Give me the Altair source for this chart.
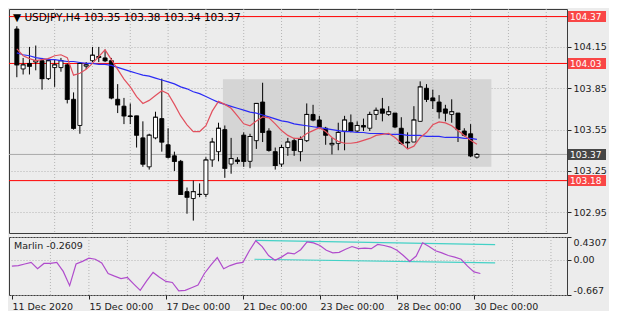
import altair as alt
import pandas as pd

symbol = "USDJPY,H4"

opens = [104.28, 103.99, 104.03, 104.04, 104.05, 103.92, 104.00, 104.00, 104.02, 103.77,
         103.58, 104.01, 104.05, 104.08, 104.07, 104.05, 103.77, 103.72, 103.65, 103.65,
         103.49, 103.28, 103.49, 103.63, 103.44, 103.36, 103.32, 103.10, 103.05, 103.08,
         103.08, 103.33, 103.39, 103.55, 103.30, 103.33, 103.51, 103.32, 103.47, 103.75,
         103.54, 103.39, 103.30, 103.42, 103.47, 103.39, 103.47, 103.66, 103.62, 103.56,
         103.44, 103.45, 103.54, 103.60, 103.54, 103.58, 103.56, 103.66, 103.70, 103.66,
         103.67, 103.56, 103.46, 103.46, 103.61, 103.85, 103.78, 103.75, 103.70, 103.66,
         103.67, 103.54, 103.52, 103.35]
highs = [104.30, 104.07, 104.15, 104.16, 104.07, 104.07, 104.06, 104.07, 104.03, 103.82,
         104.04, 104.04, 104.15, 104.15, 104.13, 104.07, 103.88, 103.78, 103.74, 103.65,
         103.61, 103.52, 103.68, 103.92, 103.56, 103.39, 103.33, 103.13, 103.18, 103.16,
         103.35, 103.49, 103.60, 103.58, 103.49, 103.35, 103.53, 103.52, 103.74, 103.89,
         103.56, 103.42, 103.44, 103.49, 103.49, 103.50, 103.74, 103.73, 103.65, 103.57,
         103.49, 103.60, 103.65, 103.66, 103.61, 103.63, 103.68, 103.71, 103.78, 103.72,
         103.67, 103.64, 103.53, 103.72, 103.90, 103.88, 103.84, 103.80, 103.73, 103.77,
         103.67, 103.56, 103.59, 103.38]
lows = [103.93, 103.95, 103.95, 103.98, 103.84, 103.91, 103.86, 103.97, 103.74, 103.55,
        103.52, 103.99, 104.04, 104.04, 104.04, 103.77, 103.67, 103.59, 103.59, 103.42,
        103.28, 103.26, 103.48, 103.39, 103.34, 103.25, 103.08, 102.94, 102.89, 103.06,
        103.06, 103.28, 103.32, 103.20, 103.23, 103.30, 103.28, 103.27, 103.41, 103.46,
        103.39, 103.26, 103.28, 103.36, 103.36, 103.32, 103.46, 103.61, 103.56, 103.44,
        103.37, 103.40, 103.40, 103.53, 103.53, 103.54, 103.54, 103.62, 103.61, 103.65,
        103.56, 103.44, 103.41, 103.46, 103.61, 103.75, 103.70, 103.63, 103.61, 103.60,
        103.46, 103.50, 103.35, 103.34]
closes = [104.02, 104.02, 104.01, 104.05, 103.92, 104.05, 104.02, 104.05, 103.77, 103.56,
          104.03, 104.02, 104.09, 104.075, 104.05, 103.78, 103.73, 103.65, 103.645, 103.51,
          103.30, 103.51, 103.64, 103.46, 103.35, 103.32, 103.08, 103.06, 103.10, 103.08,
          103.33, 103.46, 103.56, 103.27, 103.34, 103.32, 103.32, 103.50, 103.74, 103.53,
          103.40, 103.29, 103.42, 103.46, 103.40, 103.48, 103.66, 103.62, 103.57, 103.51,
          103.45, 103.53, 103.62, 103.54, 103.58, 103.57, 103.66, 103.69, 103.67, 103.68,
          103.57, 103.45, 103.455, 103.62, 103.86, 103.77, 103.76, 103.68, 103.67, 103.68,
          103.55, 103.51, 103.36, 103.37]

ma_slow = [104.107, 104.093, 104.086, 104.072, 104.065, 104.058, 104.058, 104.051, 104.044, 104.044,
           104.037, 104.030, 104.030, 104.023, 104.023, 104.016, 104.002, 103.987, 103.973, 103.959,
           103.945, 103.938, 103.924, 103.910, 103.896, 103.882, 103.860, 103.846, 103.825, 103.811,
           103.790, 103.769, 103.748, 103.733, 103.719, 103.705, 103.691, 103.677, 103.670, 103.656,
           103.642, 103.628, 103.613, 103.606, 103.592, 103.585, 103.578, 103.571, 103.564, 103.557,
           103.550, 103.543, 103.536, 103.536, 103.529, 103.529, 103.522, 103.522, 103.522, 103.515,
           103.515, 103.515, 103.508, 103.508, 103.508, 103.501, 103.501, 103.501, 103.493, 103.493,
           103.493, 103.486, 103.486, 103.479]
ma_fast = [104.136, 104.086, 104.065, 104.051, 104.058, 104.065, 104.086, 104.093, 104.072, 103.945,
           103.959, 103.987, 104.030, 104.079, 104.129, 104.058, 103.987, 103.917, 103.860, 103.790,
           103.740, 103.762, 103.797, 103.832, 103.811, 103.733, 103.649, 103.585, 103.536, 103.536,
           103.578, 103.684, 103.755, 103.733, 103.705, 103.649, 103.592, 103.578, 103.613, 103.642,
           103.635, 103.592, 103.543, 103.508, 103.486, 103.486, 103.522, 103.543, 103.564, 103.536,
           103.493, 103.465, 103.451, 103.451, 103.458, 103.472, 103.486, 103.508, 103.515, 103.522,
           103.493, 103.451, 103.409, 103.430, 103.493, 103.529, 103.585, 103.606, 103.599, 103.578,
           103.543, 103.508, 103.472, 103.444]
marlin = [-0.12, -0.11, -0.08, -0.05, -0.17, -0.07, -0.07, -0.05, -0.22, -0.49,
          -0.08, -0.03, 0.03, 0.01, -0.06, -0.26, -0.31, -0.355, -0.336, -0.46,
          -0.58, -0.40, -0.24, -0.33, -0.41, -0.43, -0.59, -0.58, -0.53, -0.48,
          -0.26, -0.10, 0.04, -0.17, -0.11, -0.07, -0.05, 0.17, 0.36, 0.25,
          0.08, -0.01, 0.05, 0.13, 0.11, 0.19, 0.34, 0.32, 0.27, 0.18,
          0.13, 0.14, 0.20, 0.25, 0.21, 0.22, 0.21, 0.29, 0.27, 0.24,
          0.18, 0.08, -0.03, 0.07, 0.32, 0.25, 0.17, 0.13, 0.08, 0.05,
          0.01, -0.12, -0.23, -0.2609]

# horizontal levels
red_levels = [104.37, 104.03, 103.18]
last_price = 103.37

# consolidation box (bar index / price)
box_x = [32.7, 75.3]
box_y = [103.28, 103.915]

# cyan channel lines on the oscillator
chan_name = ["upper", "upper", "lower", "lower"]
chan_x = [38.0, 75.3, 37.8, 75.3]
chan_v = [0.365, 0.285, 0.01, -0.06]

# axes
price_ticks = [102.95, 103.25, 103.55, 103.85, 104.15]
osc_ticks = [0.4307, 0.0, -0.667]
time_pos = [0, 12, 24, 36, 48, 60, 72]
time_labels = ["11 Dec 2020", "15 Dec 00:00", "17 Dec 00:00", "21 Dec 00:00",
               "23 Dec 00:00", "28 Dec 00:00", "30 Dec 00:00"]
grid_pos = [6, 12, 18, 24, 30, 36, 42, 48, 54, 60, 66, 72, 78, 84]

W = 558
H1 = 224
H2 = 58
FONT = "DejaVu Sans"
FS = 9.5
TAG_FS = 9

n = len(opens)
df = pd.DataFrame({"i": list(range(n)), "o": opens, "h": highs, "l": lows, "c": closes,
                   "slow": ma_slow, "fast": ma_fast, "marlin": marlin})
df["bull"] = df["c"] >= df["o"]

xs = alt.Scale(domain=[-0.45, 86.5], nice=False, zero=False)
ys = alt.Scale(domain=[102.80, 104.425], nice=False, zero=False)
os_ = alt.Scale(domain=[-0.667, 0.4307], nice=False, zero=False)

y_axis = alt.Axis(orient="right", values=price_ticks, format=".2f", title=None,
                  labelFont=FONT, labelFontSize=FS, labelColor="#222",
                  tickColor="#222", tickSize=4, domain=False, grid=True,
                  gridDash=[1, 2], gridColor="#b4b4b4", labelPadding=2)

grid_df = pd.DataFrame({"g": grid_pos})
box_df = pd.DataFrame({"x0": [box_x[0]], "x1": [box_x[1]], "y0": [box_y[0]], "y1": [box_y[1]]})
lvl_df = pd.DataFrame({"p": red_levels})
tag_df = pd.DataFrame({"p": red_levels + [last_price],
                       "col": ["#ff0000"] * len(red_levels) + ["#000000"]})
tag_df["txt"] = tag_df["p"].map(lambda v: f"{v:.2f}")
title_df = pd.DataFrame({"t": [f"\u25BC {symbol}  {opens[-1]:.2f} {highs[-1]:.2f} {lows[-1]:.2f} {closes[-1]:.2f}"]})

box = alt.Chart(box_df).mark_rect(color="#d5d5d5").encode(
    x=alt.X("x0:Q", scale=xs, axis=None), x2="x1:Q",
    y=alt.Y("y0:Q", scale=ys, axis=y_axis), y2="y1:Q")

vgrid = alt.Chart(grid_df).mark_rule(color="#b4b4b4", strokeDash=[1, 2]).encode(
    x=alt.X("g:Q", scale=xs, axis=None))

red_lines = alt.Chart(lvl_df).mark_rule(color="#ff0000", strokeWidth=1).encode(
    y=alt.Y("p:Q", scale=ys, axis=y_axis))

last_line = alt.Chart(pd.DataFrame({"p": [last_price]})).mark_rule(color="#a9a9a9").encode(
    y=alt.Y("p:Q", scale=ys, axis=y_axis))

base = alt.Chart(df).encode(x=alt.X("i:Q", scale=xs, axis=None))

wicks = base.mark_rule(color="#000000", strokeWidth=1).encode(
    y=alt.Y("l:Q", scale=ys, axis=y_axis), y2="h:Q")

bodies = base.mark_bar(width=4, stroke="#000000", strokeWidth=0.9).encode(
    y=alt.Y("o:Q", scale=ys, axis=y_axis), y2="c:Q",
    fill=alt.condition("datum.bull", alt.value("#ffffff"), alt.value("#000000")))

caps = base.mark_tick(orient="horizontal", size=5, thickness=1, color="#000000").encode(
    y=alt.Y("c:Q", scale=ys, axis=y_axis))

slow_line = base.mark_line(color="#2b2bf5", strokeWidth=1.2).encode(
    y=alt.Y("slow:Q", scale=ys, axis=y_axis))
fast_line = base.mark_line(color="#e2505e", strokeWidth=1.2).encode(
    y=alt.Y("fast:Q", scale=ys, axis=y_axis))

tags = alt.Chart(tag_df).mark_tick(orient="horizontal", size=38, thickness=11).encode(
    x=alt.value(W + 20),
    y=alt.Y("p:Q", scale=ys, axis=y_axis),
    color=alt.Color("col:N", scale=None))
tag_txt = alt.Chart(tag_df).mark_text(align="left", baseline="middle", color="#ffffff",
                                      font=FONT, fontSize=TAG_FS, dy=0.5).encode(
    x=alt.value(W + 3),
    y=alt.Y("p:Q", scale=ys, axis=y_axis),
    text="txt:N")

title_txt = alt.Chart(title_df).mark_text(align="left", baseline="middle", color="#000000",
                                          font=FONT, fontSize=10.5).encode(
    x=alt.value(4), y=alt.value(9), text="t:N")

main = alt.layer(box, vgrid, last_line, red_lines, wicks, bodies, caps,
                 slow_line, fast_line, tags, tag_txt, title_txt).properties(width=W, height=H1)

# ---------- oscillator panel ----------
label_expr = ""
for p, t in zip(time_pos, time_labels):
    label_expr += f"datum.value == {p} ? '{t}' : "
label_expr += "''"

x_axis = alt.Axis(values=time_pos, labelExpr=label_expr, labelAlign="left", title=None,
                  labelFont=FONT, labelFontSize=FS, labelColor="#222", tickColor="#222",
                  tickSize=4, domain=False, grid=False, labelPadding=2, labelFlush=False,
                  labelOverlap=False)
o_axis = alt.Axis(orient="right", values=osc_ticks, title=None, labelFlush=True,
                  labelExpr="datum.value == 0 ? '0.00' : '' + datum.value",
                  labelFont=FONT, labelFontSize=FS, labelColor="#222", tickColor="#222",
                  tickSize=4, domain=False, grid=True, gridDash=[1, 2], gridColor="#b4b4b4",
                  labelPadding=2)

chan_df = pd.DataFrame({"name": chan_name, "x": chan_x, "v": chan_v})

ovgrid = alt.Chart(grid_df).mark_rule(color="#b4b4b4", strokeDash=[1, 2]).encode(
    x=alt.X("g:Q", scale=xs, axis=x_axis))
osc_line = alt.Chart(df).mark_line(color="#b04ccc", strokeWidth=1.2).encode(
    x=alt.X("i:Q", scale=xs, axis=x_axis),
    y=alt.Y("marlin:Q", scale=os_, axis=o_axis))
chan = alt.Chart(chan_df).mark_line(color="#43d1c6", strokeWidth=1.2).encode(
    x=alt.X("x:Q", scale=xs, axis=x_axis),
    y=alt.Y("v:Q", scale=os_, axis=o_axis),
    detail="name:N")
osc_label = alt.Chart(pd.DataFrame({"t": [f"Marlin {marlin[-1]:.4f}"]})).mark_text(
    align="left", baseline="middle", color="#222", font=FONT, fontSize=FS).encode(
    x=alt.value(5), y=alt.value(9), text="t:N")

osc = alt.layer(ovgrid, chan, osc_line, osc_label).properties(width=W, height=H2)

chart = alt.vconcat(main, osc, spacing=2).properties(
    background="#ececec", padding={"left": 0, "top": 0, "right": 2, "bottom": 0}
).configure_view(stroke="#3c3c3c", strokeWidth=1).configure_concat(spacing=2)

chart.save("out.html", embed_options={"renderer": "svg", "actions": False})
